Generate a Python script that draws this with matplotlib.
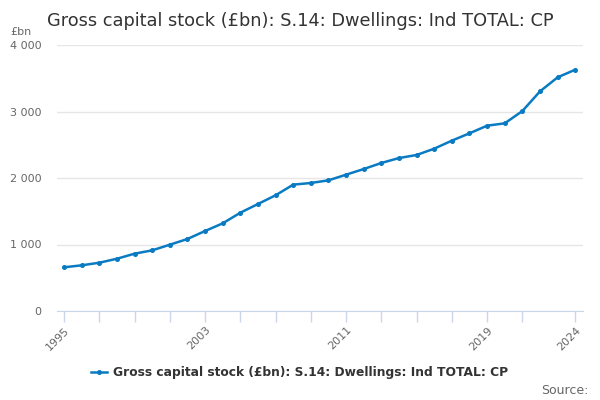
import matplotlib
matplotlib.use('Agg')
import matplotlib.pyplot as plt
from matplotlib.ticker import FuncFormatter

# 数据（从图中读取，单位 £bn）
years = list(range(1995, 2025))
values = [657, 687, 726, 786, 862, 912, 997, 1083, 1203, 1318,
          1478, 1609, 1740, 1900, 1925, 1965, 2050, 2135, 2226, 2300,
          2346, 2441, 2562, 2672, 2787, 2822, 3007, 3303, 3514, 3629]
tick_years = [1995, 2003, 2011, 2019, 2024]
title = 'Gross capital stock (£bn): S.14: Dwellings: Ind TOTAL: CP'

plt.rcParams['font.family'] = ['DejaVu Sans']

fig = plt.figure(figsize=(6, 4), dpi=100)
ax = fig.add_axes([0.095, 0.2225, 0.877, 0.665])

line_color = '#0a7bc2'
ax.plot(years, values, color=line_color, linewidth=1.8, marker='o', markersize=2.6,
        label=title)

ax.set_xlim(1994.6, 2024.45)
ax.set_ylim(0, 4000)
ax.set_yticks([0, 1000, 2000, 3000, 4000])
ax.yaxis.set_major_formatter(FuncFormatter(lambda v, p: f'{int(v):,}'.replace(',', ' ')))
ax.grid(axis='y', color='#e6e6e6', linewidth=1)
ax.set_axisbelow(True)

# x 轴刻度：每两年一个刻度线，只标注部分年份
minor = list(range(1995, 2022, 2)) + [2024]
ax.set_xticks(minor)
ax.set_xticklabels([str(y) if y in tick_years else '' for y in minor],
                   rotation=45, ha='right', rotation_mode='anchor',
                   fontsize=8, color='#666666')
ax.tick_params(axis='x', length=8, color='#ccd6eb', width=1, pad=2)
ax.tick_params(axis='y', length=0, labelsize=8, labelcolor='#666666', pad=11)

for s in ['top', 'right', 'left']:
    ax.spines[s].set_visible(False)
ax.spines['bottom'].set_color('#ccd6eb')

fig.text(0.078, 0.947, title, fontsize=12.8, color='#333333', va='center')
fig.text(0.017, 0.92, '£bn', fontsize=8, color='#666666', va='center')

leg = fig.legend(loc='center', bbox_to_anchor=(0.5, 0.068), frameon=False,
                 prop={'weight': 'bold', 'size': 8.8}, handlelength=1.3,
                 handletextpad=0.5)
for t in leg.get_texts():
    t.set_color('#333333')

fig.text(0.98, 0.025, 'Source:', fontsize=9, color='#666666', ha='right', va='center')

fig.savefig('out.png', dpi=100)
